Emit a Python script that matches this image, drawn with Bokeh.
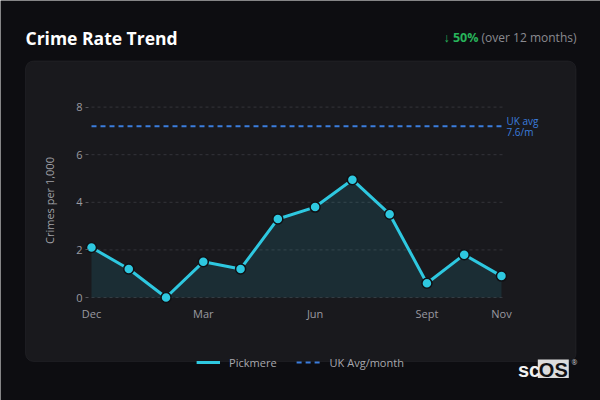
from bokeh.plotting import figure
from bokeh.models import (Label, Legend, LegendItem, FixedTicker, BoxAnnotation,
                          ColumnDataSource, Range1d)
from bokeh.embed import file_html
from bokeh.resources import INLINE

# ---- data ----
months = ["Dec", "Jan", "Feb", "Mar", "Apr", "May", "Jun", "Jul", "Aug", "Sept", "Oct", "Nov"]
rate = [2.1, 1.2, 0.0, 1.5, 1.2, 3.3, 3.8, 4.95, 3.5, 0.6, 1.8, 0.9]
uk_avg = 7.2
tick_months = ["Dec", "Mar", "Jun", "Sept", "Nov"]
y_ticks = [0, 2, 4, 6, 8]
series_name = "Pickmere"
uk_name = "UK Avg/month"

FONT = "Open Sans"
PAGE_BG = "#0d0d11"
CARD_BG = "#19191d"
CYAN = "#2ec8e0"
BLUE = "#3b7ddd"

# whole canvas is the frame; pixel <-> data mapping
W, H = 600, 400
SX = 37.27      # px per month
SY = 23.8       # px per unit
ORIGIN_X, ORIGIN_Y = 91, 297   # pixel of (0, 0)
X0 = -ORIGIN_X / SX
X1 = X0 + W / SX
Y0 = -(H - ORIGIN_Y) / SY
Y1 = Y0 + H / SY


def dx(px):
    return X0 + px / SX


def dy(py):
    return Y0 + (H - py) / SY


idx = list(range(len(months)))
src = ColumnDataSource(dict(x=idx, y=rate, base=[0] * len(idx), uk=[uk_avg] * len(idx)))
grid_src = ColumnDataSource(dict(y=y_ticks, x0=[idx[0]] * len(y_ticks), x1=[idx[-1] + 0.05] * len(y_ticks)))

p = figure(width=W, height=H, output_backend="svg", toolbar_location=None,
           x_range=Range1d(X0, X1), y_range=Range1d(Y0, Y1),
           min_border=0)
p.background_fill_color = PAGE_BG
p.border_fill_color = PAGE_BG
p.outline_line_color = None

# card
card = BoxAnnotation(left=dx(25), right=dx(575.5), top=dy(60.5), bottom=dy(361),
                     fill_color=CARD_BG, fill_alpha=1.0, line_color="#34343a",
                     line_width=1, border_radius=8, level="underlay")
p.add_layout(card)
# logo box
logo_box = BoxAnnotation(left=dx(537.3), right=dx(568.3), top=dy(359), bottom=dy(377.5),
                         fill_color="#dcdcdc", fill_alpha=1.0, line_color=None,
                         level="underlay")
p.add_layout(logo_box)

# grid lines
p.segment(x0="x0", x1="x1", y0="y", y1="y", source=grid_src,
          line_color="#34343a", line_dash="3 3", line_width=1)

# area + line + markers
p.varea(x="x", y1="base", y2="y", source=src, fill_color=CYAN, fill_alpha=0.12)
uk_r = p.line(x="x", y="uk", source=src, line_color=BLUE, line_width=2, line_dash="5 4")
ln = p.line(x="x", y="y", source=src, line_color=CYAN, line_width=3)
p.scatter(x="x", y="y", source=src, size=10, fill_color=CYAN, line_color="#101014", line_width=1.5)

# axes (fixed inside the frame)
p.xaxis.fixed_location = dy(303)
p.yaxis.fixed_location = dx(88)
p.xaxis.ticker = FixedTicker(ticks=[months.index(m) for m in tick_months])
p.xaxis.major_label_overrides = {months.index(m): m for m in tick_months}
p.xaxis.axis_line_color = None
p.xaxis.major_tick_line_color = None
p.xaxis.major_tick_out = 0
p.xaxis.major_tick_in = 0
p.xaxis.minor_tick_line_color = None
p.xaxis.major_label_standoff = 2
p.yaxis.ticker = FixedTicker(ticks=y_ticks)
p.yaxis.axis_line_color = None
p.yaxis.major_tick_line_color = "#55555b"
p.yaxis.major_tick_out = 3
p.yaxis.major_tick_in = 0
p.yaxis.minor_tick_line_color = None
p.yaxis.major_label_standoff = 3
p.yaxis.axis_label = "Crimes per 1,000"
p.yaxis.axis_label_standoff = 16
p.yaxis.axis_label_text_font_style = "normal"
p.yaxis.axis_label_text_font_size = "11px"
p.yaxis.axis_label_text_color = "#a0a0a6"
p.yaxis.axis_label_text_font = FONT
for ax in (p.xaxis, p.yaxis):
    ax.major_label_text_font = FONT
    ax.major_label_text_font_size = "11px"
    ax.major_label_text_color = "#9a9aa0"

p.xgrid.visible = False
p.ygrid.visible = False

# legend
legend = Legend(items=[LegendItem(label=series_name, renderers=[ln]),
                       LegendItem(label=uk_name, renderers=[uk_r])],
                location="bottom_center", orientation="horizontal",
                background_fill_alpha=0, border_line_color=None,
                padding=0, margin=30, spacing=20, label_standoff=9,
                glyph_width=24, glyph_height=16,
                label_text_font=FONT, label_text_font_size="11px",
                label_text_color="#a8a8ae")
p.add_layout(legend, "center")


def lab(px, py, text, font=FONT, **kw):
    p.add_layout(Label(x=dx(px), y=dy(py), text=text, text_font=font,
                       text_baseline="middle", **kw))


# titles and labels
lab(25, 37.5, "Crime Rate Trend", text_font_size="17.5px", text_font_style="bold",
    text_color="#ffffff")
lab(576, 36.5, "(over 12 months)", text_font_size="12px", text_color="#8a8a90",
    text_align="right")
lab(478, 36.5, "↓ 50%", text_font_size="12.5px", text_font_style="bold",
    text_color="#27b35a", text_align="right")
lab(506, 120, "UK avg", text_font_size="10px", text_color=BLUE)
lab(506, 131.5, "7.6/m", text_font_size="10px", text_color=BLUE)

# logo
lab(517.5, 369, "sc", font="Liberation Sans", text_font_size="20px", text_font_style="bold",
    text_color="#f2f2f2")
lab(552.8, 369, "OS", font="Liberation Sans", text_font_size="20px", text_font_style="bold",
    text_color="#111114", text_align="center")
lab(571, 361.5, "®", text_font_size="7px", text_color="#d0d0d0")

open("out.html", "w").write(file_html(p, INLINE))
